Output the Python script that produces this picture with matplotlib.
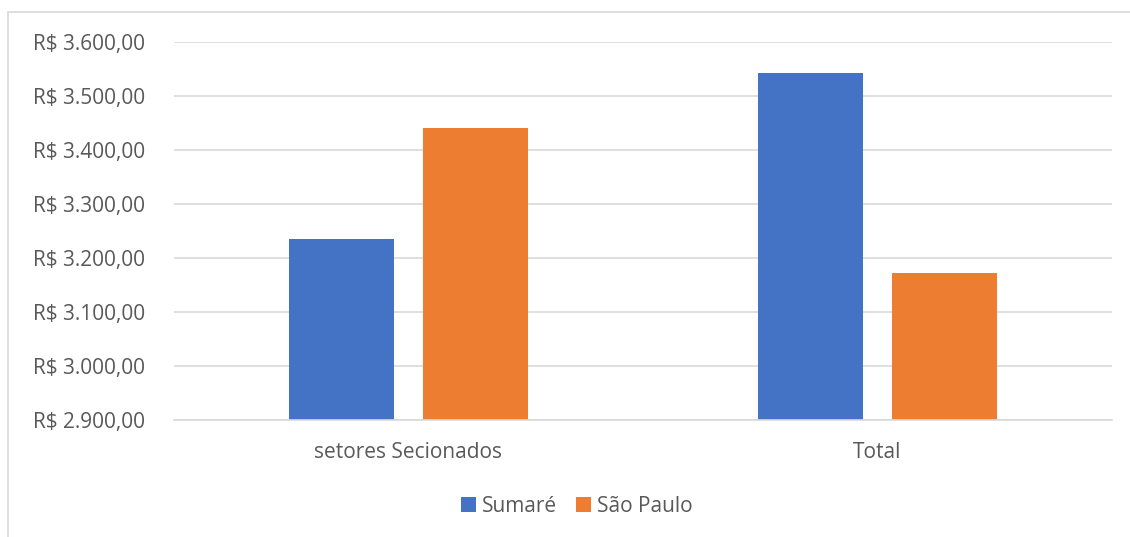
import numpy as np
import matplotlib.pyplot as plt
from matplotlib.patches import Rectangle
from matplotlib.ticker import FuncFormatter

categories = ['setores Secionados', 'Total']
series_names = ['Sumaré', 'São Paulo']
sumare = [3235, 3543]
sao_paulo = [3441, 3172]
colors = ['#4472C4', '#ED7D31']

plt.rcParams['font.family'] = ['Open Sans', 'DejaVu Sans']

fig = plt.figure(figsize=(11.3, 5.37), dpi=100)
# chart frame
fig.patches.append(Rectangle((8 / 1130, -0.1), 1.2, 1 - 12 / 537 + 0.1,
                             transform=fig.transFigure, fill=False,
                             edgecolor='#D9D9D9', linewidth=1.2))
ax = fig.add_axes([174 / 1130, 1 - 420 / 537, (1112 - 174) / 1130, (420 - 42) / 537])

x = np.arange(len(categories))
w = 0.224
off = 0.143
ax.bar(x - off, sumare, width=w, color=colors[0], label=series_names[0], zorder=2)
ax.bar(x + off, sao_paulo, width=w, color=colors[1], label=series_names[1], zorder=2)

ax.set_xlim(-0.5, 1.5)
ax.set_ylim(2900, 3600)
ax.set_yticks(np.arange(2900, 3601, 100))

def brl(v, pos):
    s = f'{v:,.2f}'.replace(',', 'X').replace('.', ',').replace('X', '.')
    return 'R$ ' + s

ax.yaxis.set_major_formatter(FuncFormatter(brl))
ax.set_xticks(x)
ax.set_xticklabels(categories)
ax.grid(axis='y', color='#D9D9D9', linewidth=1.2, zorder=0)
for s in ['top', 'right', 'left']:
    ax.spines[s].set_visible(False)
ax.spines['bottom'].set_color('#D9D9D9')
ax.spines['bottom'].set_linewidth(1.2)
ax.tick_params(axis='both', length=0, labelsize=15, colors='#595959')
ax.tick_params(axis='y', pad=21)
ax.tick_params(axis='x', pad=16)

fig.legend(loc='center', bbox_to_anchor=(0.5 + 12 / 1130, 1 - 506 / 537), ncol=2, frameon=False,
           handlelength=0.7, handleheight=0.7, handletextpad=0.3, columnspacing=0.9,
           prop={'size': 15}, labelcolor='#595959')

fig.savefig('out.png', dpi=100)
